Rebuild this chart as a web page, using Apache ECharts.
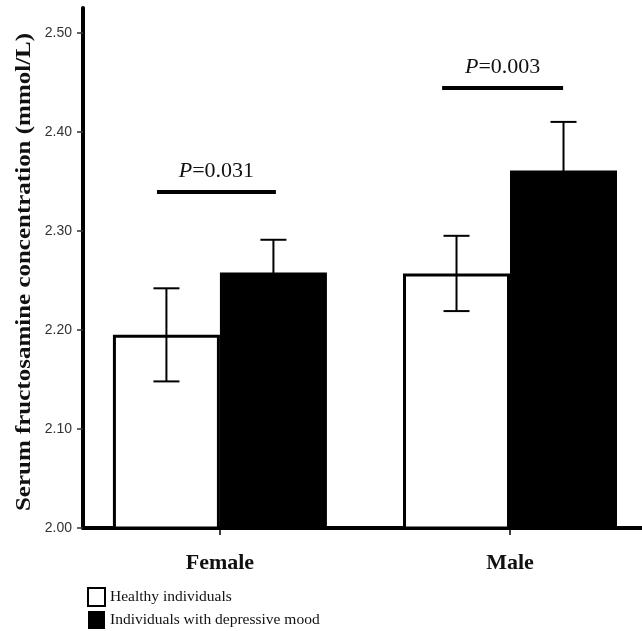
<!DOCTYPE html>
<html>
<head>
<meta charset="utf-8">
<script src="https://cdn.jsdelivr.net/npm/echarts@6/dist/echarts.min.js"></script>
<style>
  html, body { margin: 0; padding: 0; background: #fff; }
  #chart { width: 642px; height: 631px; }
</style>
</head>
<body>
<div id="chart"></div>
<script>
// groups sit at x = 1, 2 on a value axis so the bars can hug the y axis like the original
const categories = ["Female", "Male"];
const groupPos = [1, 2];
const seriesNames = ["Healthy individuals", "Individuals with depressive mood"];
const healthyMean = [2.195, 2.257];
const healthyErr = [0.047, 0.038];
const depressedMean = [2.258, 2.361];
const depressedErr = [0.033, 0.049];
const yTicks = [2.0, 2.1, 2.2, 2.3, 2.4, 2.5];
// significance bars: p value, height, start / end along the x axis
const sigP = ["0.031", "0.003"];
const sigLevel = [2.339, 2.444];
const sigStart = [0.783, 1.766];
const sigEnd = [1.193, 2.183];

const BAR_W = 107;
const serif = '"Liberation Serif", "Times New Roman", serif';

function errorSeries(means, errs, offset) {
  return {
    type: "custom",
    z: 5,
    silent: true,
    data: groupPos.map((x, i) => [x, means[i] - errs[i], means[i] + errs[i]]),
    renderItem: function (params, api) {
      const lo = api.coord([api.value(0), api.value(1)]);
      const hi = api.coord([api.value(0), api.value(2)]);
      const cx = lo[0] + offset;
      const cap = 13;
      const st = { stroke: "#000", lineWidth: 2 };
      return {
        type: "group",
        children: [
          { type: "line", shape: { x1: cx, y1: lo[1], x2: cx, y2: hi[1] }, style: st },
          { type: "line", shape: { x1: cx - cap, y1: hi[1], x2: cx + cap, y2: hi[1] }, style: st },
          { type: "line", shape: { x1: cx - cap, y1: lo[1], x2: cx + cap, y2: lo[1] }, style: st }
        ]
      };
    }
  };
}

const sigLines = sigP.map((p, i) => [
  {
    coord: [sigStart[i], sigLevel[i]],
    label: { formatter: "{i|P}=" + p }
  },
  { coord: [sigEnd[i], sigLevel[i]] }
]);

const chart = echarts.init(document.getElementById("chart"));
chart.setOption({
  animation: false,
  grid: { left: 83, right: 0, top: 8, bottom: 103 },
  legend: {
    orient: "vertical",
    left: 87,
    top: 587,
    icon: "rect",
    itemWidth: 17,
    itemHeight: 18,
    itemGap: 4,
    itemTextGap: 4,
    padding: 0,
    textStyle: { fontFamily: serif, fontSize: 15.5, color: "#111" },
    data: seriesNames
  },
  xAxis: {
    type: "value",
    min: 0.528,
    max: 2.455,
    splitLine: { show: false },
    axisLine: { lineStyle: { color: "#000", width: 4 } },
    axisTick: {
      customValues: groupPos,
      length: 7,
      lineStyle: { color: "#000", width: 1.5 }
    },
    axisLabel: {
      customValues: groupPos,
      formatter: (v) => categories[Math.round(v) - 1],
      margin: 24,
      fontFamily: serif,
      fontWeight: "bold",
      fontSize: 22,
      color: "#111"
    }
  },
  yAxis: {
    type: "value",
    min: 2.0,
    max: 2.525,
    splitLine: { show: false },
    axisLine: { show: true, lineStyle: { color: "#000", width: 4 } },
    axisTick: {
      show: true,
      customValues: yTicks,
      length: 6,
      lineStyle: { color: "#333", width: 1.5 }
    },
    axisLabel: {
      customValues: yTicks,
      margin: 11,
      fontFamily: '"Liberation Sans", Arial, sans-serif',
      fontSize: 14,
      color: "#333",
      formatter: (v) => v.toFixed(2)
    }
  },
  graphic: [
    {
      type: "text",
      x: 25,
      y: 272,
      rotation: Math.PI / 2,
      scaleX: 1.19,
      style: {
        text: "Serum fructosamine concentration (mmol/L)",
        font: 'bold 21px "Liberation Serif", serif',
        fill: "#111",
        align: "center",
        verticalAlign: "middle"
      }
    }
  ],
  series: [
    {
      name: seriesNames[0],
      type: "bar",
      barWidth: BAR_W,
      barGap: "0%",
      data: groupPos.map((x, i) => [x, healthyMean[i]]),
      itemStyle: { color: "#fff", borderColor: "#000", borderWidth: 3 }
    },
    {
      name: seriesNames[1],
      type: "bar",
      barWidth: BAR_W,
      barGap: "0%",
      data: groupPos.map((x, i) => [x, depressedMean[i]]),
      itemStyle: { color: "#000" }
    },
    errorSeries(healthyMean, healthyErr, -BAR_W / 2),
    errorSeries(depressedMean, depressedErr, BAR_W / 2),
    {
      type: "line",
      data: [],
      silent: true,
      markLine: {
        silent: true,
        symbol: ["none", "none"],
        lineStyle: { color: "#000", width: 4, type: "solid" },
        label: {
          position: "insideMiddleTop",
          distance: 10,
          fontFamily: serif,
          fontSize: 22,
          color: "#111",
          rich: { i: { fontFamily: serif, fontSize: 22, fontStyle: "italic", color: "#111" } }
        },
        data: sigLines
      }
    }
  ]
});
</script>
</body>
</html>
